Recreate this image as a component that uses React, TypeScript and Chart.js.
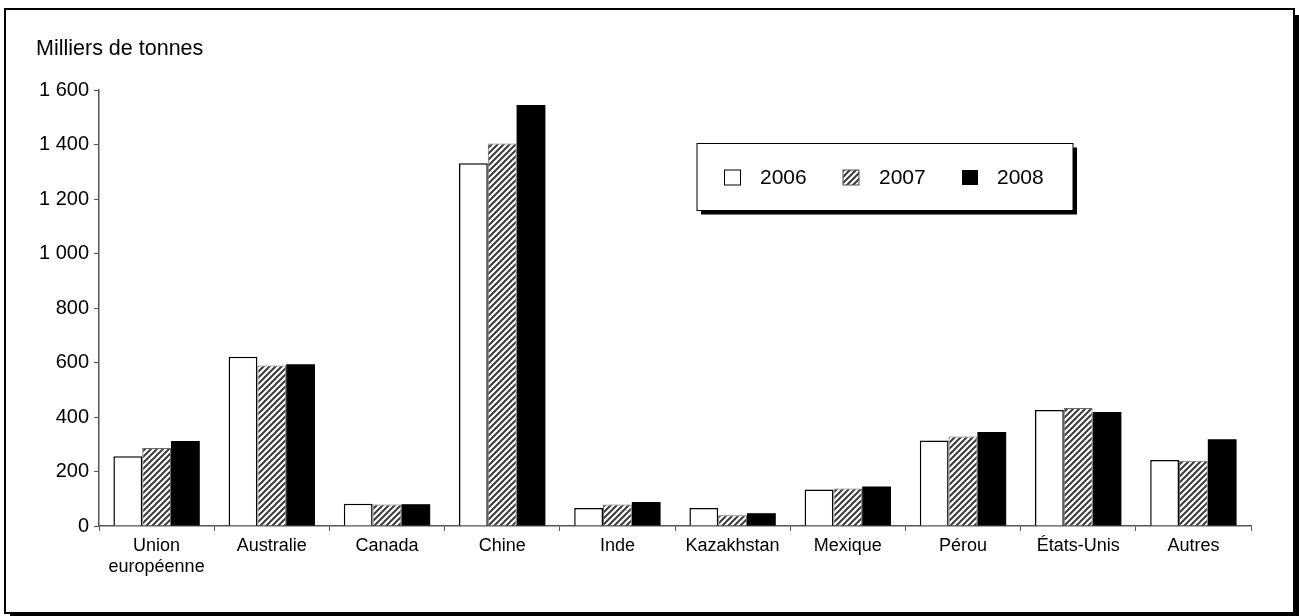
import React, { useEffect, useRef } from "react";
import { Chart, registerables } from "chart.js";

Chart.register(...registerables);

const categories: (string | string[])[] = [
  ["Union", "européenne"],
  "Australie",
  "Canada",
  "Chine",
  "Inde",
  "Kazakhstan",
  "Mexique",
  "Pérou",
  "États-Unis",
  "Autres",
];
const seriesLabels = ["2006", "2007", "2008"];
const values2006 = [256, 621, 82, 1331, 66, 66, 134, 314, 426, 242];
const values2007 = [286, 589, 79, 1404, 79, 39, 138, 328, 433, 239];
const values2008 = [312, 594, 80, 1545, 88, 47, 145, 345, 418, 318];
const yMin = 0;
const yMax = 1600;
const yStep = 200;
const unitLabel = "Milliers de tonnes";

const FONT = "'Liberation Sans', Arial, sans-serif";

function formatTick(v: number): string {
  if (v >= 1000) {
    return `${Math.floor(v / 1000)} ${String(v % 1000).padStart(3, "0")}`;
  }
  return String(v);
}

function makeHatch(): CanvasPattern | string {
  const c = document.createElement("canvas");
  const s = 6;
  c.width = s;
  c.height = s;
  const g = c.getContext("2d");
  if (!g) return "#888";
  g.fillStyle = "#ffffff";
  g.fillRect(0, 0, s, s);
  g.strokeStyle = "#3a3a3a";
  g.lineWidth = 2;
  g.beginPath();
  g.moveTo(0, s);
  g.lineTo(s, 0);
  g.moveTo(-s / 2, s / 2);
  g.lineTo(s / 2, -s / 2);
  g.moveTo(s / 2, s + s / 2);
  g.lineTo(s + s / 2, s / 2);
  g.stroke();
  const p = g.createPattern(c, "repeat");
  return p || "#888";
}

export default function App() {
  const ref = useRef<HTMLCanvasElement | null>(null);

  useEffect(() => {
    const canvas = ref.current;
    if (!canvas) return;
    const hatch = makeHatch();

    const fills = ["#ffffff", hatch, "#000000"];
    const borders = ["#000000", "#6a6a6a", "#000000"];

    const decor = {
      id: "decor",
      beforeDraw(chart: any) {
        const ctx = chart.ctx;
        ctx.save();
        ctx.fillStyle = "#ffffff";
        ctx.fillRect(0, 0, chart.width, chart.height);
        ctx.restore();
      },
      afterDraw(chart: any) {
        const ctx = chart.ctx;
        ctx.save();
        // outer frame with shadow
        ctx.fillStyle = "#000";
        ctx.fillRect(1295, 15, 4, 601);
        ctx.fillRect(10, 613, 1289, 3);
        ctx.strokeStyle = "#000";
        ctx.lineWidth = 2;
        ctx.strokeRect(5, 9, 1289, 604);

        // unit label
        ctx.fillStyle = "#000";
        ctx.font = `21.5px ${FONT}`;
        ctx.textBaseline = "alphabetic";
        ctx.textAlign = "left";
        ctx.fillText(unitLabel, 36, 55);

        // legend box
        const lx = 697, ly = 143.5, lw = 376, lh = 67;
        ctx.fillStyle = "#000";
        ctx.fillRect(lx + 4, ly + 4, lw, lh);
        ctx.fillStyle = "#fff";
        ctx.fillRect(lx, ly, lw, lh);
        ctx.strokeStyle = "#000";
        ctx.lineWidth = 1;
        ctx.strokeRect(lx, ly, lw, lh);

        const sqX = [724.5, 843, 962];
        const txX = [760, 879, 997];
        chart.data.datasets.forEach((ds: any, i: number) => {
          ctx.fillStyle = ds.backgroundColor;
          ctx.fillRect(sqX[i], 170, 16, 15);
          if (i < 2) {
            ctx.strokeStyle = i === 0 ? "#000" : "#555";
            ctx.lineWidth = 1;
            ctx.strokeRect(sqX[i], 170, 16, 15);
          }
          ctx.fillStyle = "#000";
          ctx.font = `21px ${FONT}`;
          ctx.textBaseline = "alphabetic";
          ctx.fillText(ds.label, txX[i], 184);
        });
        ctx.restore();
      },
    };

    const chart = new Chart(canvas, {
      type: "bar",
      data: {
        labels: categories,
        datasets: [values2006, values2007, values2008].map((vals, i) => ({
          label: seriesLabels[i],
          data: vals,
          backgroundColor: fills[i] as any,
          borderColor: borders[i],
          borderWidth: i === 2 ? 0 : i === 0 ? 1.5 : 1,
          categoryPercentage: 0.75,
          barPercentage: 1.0,
        })),
      },
      options: {
        animation: false,
        responsive: false,
        devicePixelRatio: 1,
        layout: { padding: { left: 0, top: 90, right: 48, bottom: 0 } },
        plugins: {
          legend: { display: false },
          tooltip: { enabled: false },
          title: { display: false },
        },
        scales: {
          x: {
            grid: {
              drawOnChartArea: false,
              drawTicks: true,
              tickLength: 5,
              offset: true,
              color: "#555",
            },
            border: { color: "#555", width: 1.5 },
            ticks: {
              color: "#000",
              font: { family: FONT, size: 18 },
              padding: 4,
              maxRotation: 0,
              autoSkip: false,
            },
            afterFit: (scale: any) => {
              scale.height = 90;
            },
          },
          y: {
            min: yMin,
            max: yMax,
            ticks: {
              stepSize: yStep,
              color: "#000",
              font: { family: FONT, size: 20 },
              padding: 5,
              callback: (v: any) => formatTick(Number(v)),
            },
            grid: {
              drawOnChartArea: false,
              drawTicks: true,
              tickLength: 5,
              color: "#555",
            },
            border: { color: "#555", width: 1.5 },
            afterFit: (scale: any) => {
              scale.width = 99;
            },
          },
        },
      },
      plugins: [decor],
    });

    return () => chart.destroy();
  }, []);

  return (
    <div style={{ position: "fixed", left: 0, top: 0, width: 1299, height: 616, background: "#fff" }}>
      <canvas ref={ref} width={1299} height={616} style={{ width: 1299, height: 616, display: "block" }} />
    </div>
  );
}
